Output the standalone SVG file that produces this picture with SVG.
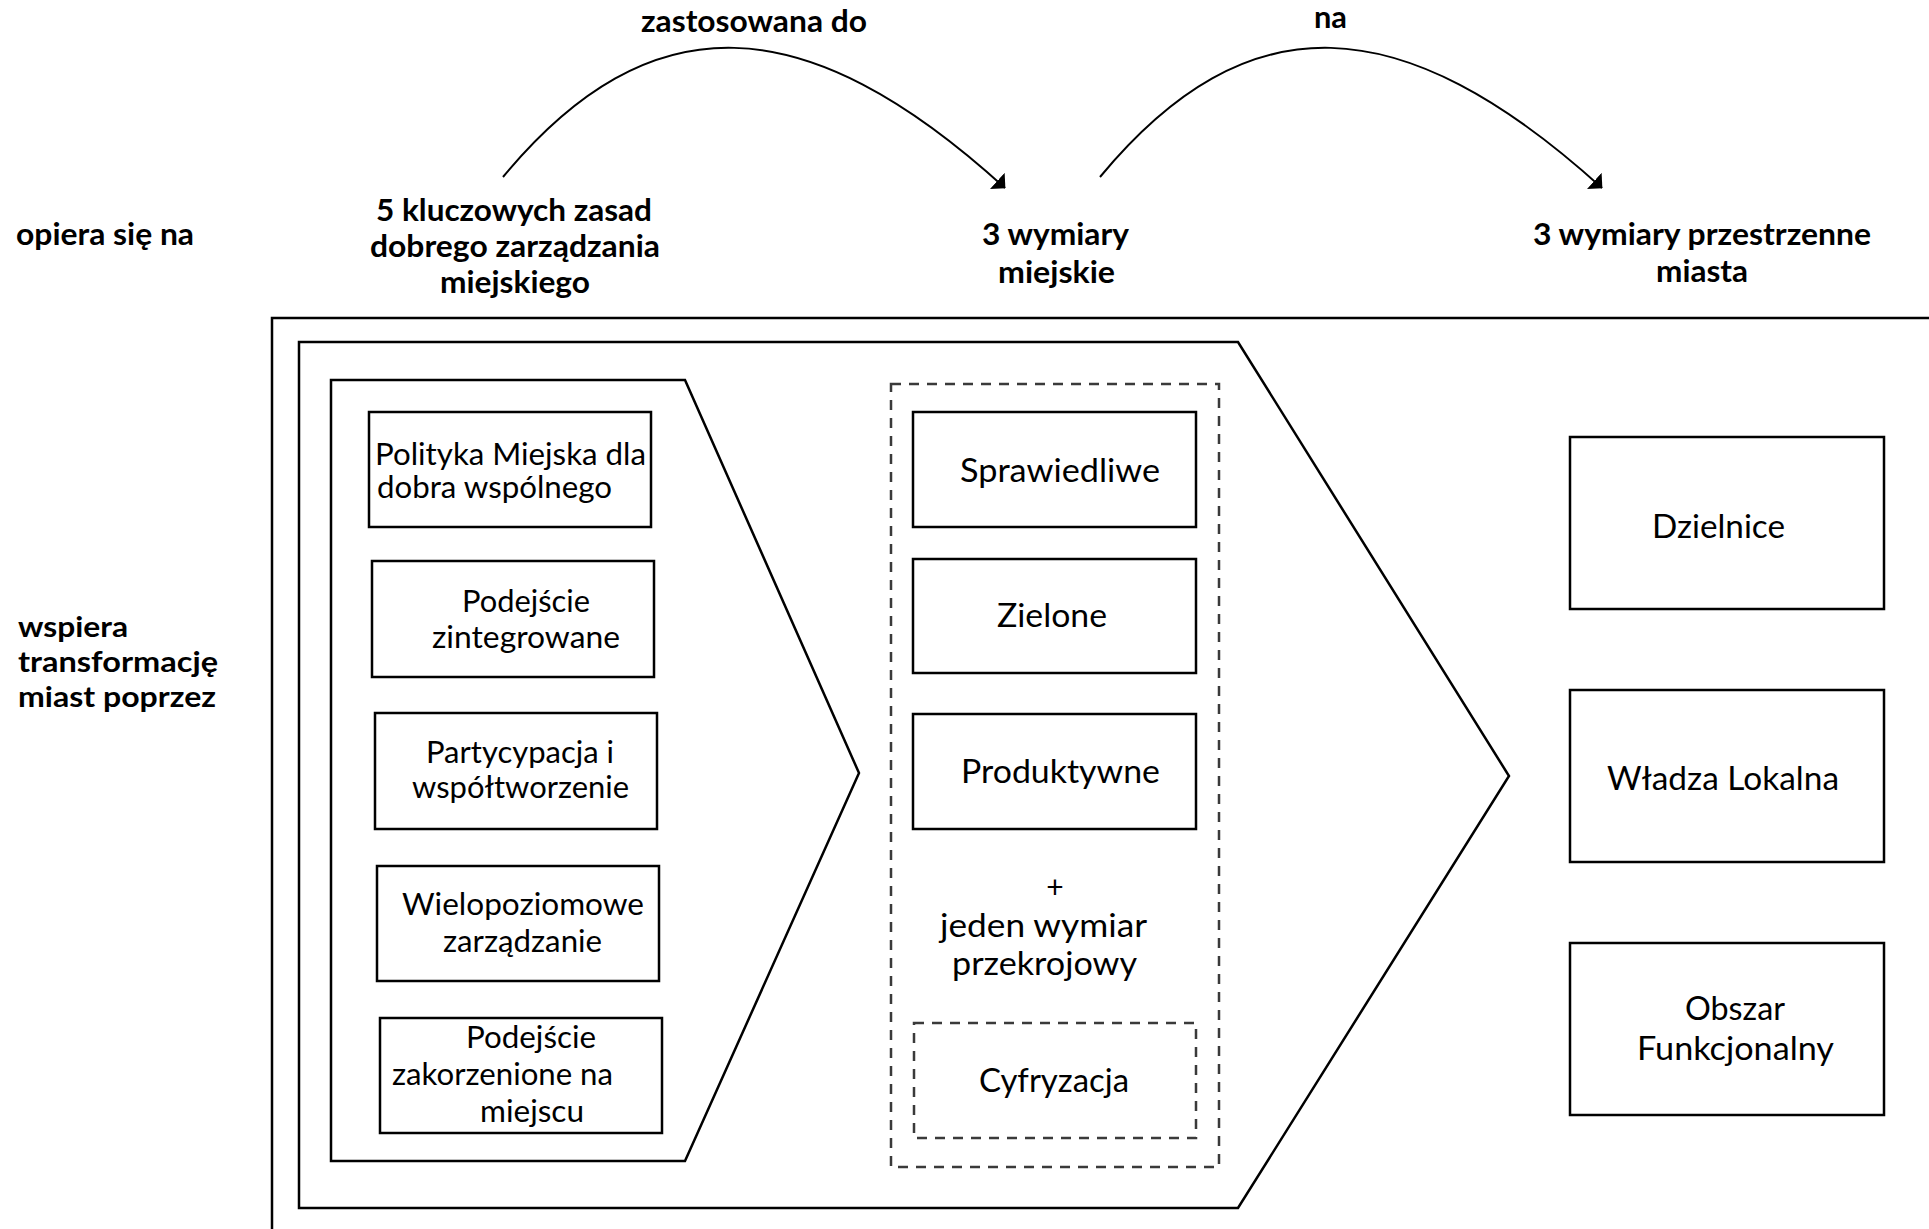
<svg xmlns="http://www.w3.org/2000/svg" width="1929" height="1229" viewBox="0 0 1929 1229">
<defs>
<style>
.lbl{font-family:Lato,"Liberation Sans",sans-serif;font-weight:700;font-size:30px;fill:#000}
.lbs{font-family:Lato,"Liberation Sans",sans-serif;font-weight:700;font-size:29px;fill:#000}
.t{font-family:Lato,"Liberation Sans",sans-serif;font-size:30px;fill:#000}
.tm{font-family:Lato,"Liberation Sans",sans-serif;font-size:32px;fill:#000}
.tr{font-family:Lato,"Liberation Sans",sans-serif;font-size:33px;fill:#000}
.box{fill:#fff;stroke:#000;stroke-width:2.5}
.frame{fill:none;stroke:#000;stroke-width:2.5}
.dash{fill:none;stroke:#3a3a3a;stroke-width:2.5;stroke-dasharray:10 8}
.arc{fill:none;stroke:#000;stroke-width:2}
</style>
<marker id="ah" markerUnits="userSpaceOnUse" viewBox="0 0 11 22" markerWidth="11" markerHeight="22" refX="10.5" refY="11" orient="auto">
<path d="M0,0 L11,11 L0,22 Z" fill="#000"/>
</marker>
</defs>
<rect width="1929" height="1229" fill="#fff"/>

<g id="labels">
<text class="lbl" x="641" y="32" textLength="226" lengthAdjust="spacingAndGlyphs">zastosowana do</text>
<text class="lbl" x="1314" y="28" textLength="33" lengthAdjust="spacingAndGlyphs">na</text>
<text class="lbl" x="16" y="245" textLength="178" lengthAdjust="spacingAndGlyphs">opiera się na</text>
<text class="lbs" x="18" y="637" textLength="110" lengthAdjust="spacingAndGlyphs">wspiera</text>
<text class="lbs" x="18" y="672" textLength="200" lengthAdjust="spacingAndGlyphs">transformację</text>
<text class="lbs" x="18" y="707" textLength="198" lengthAdjust="spacingAndGlyphs">miast poprzez</text>
</g>

<g id="node-zasady">
<text class="lbl" x="376" y="221" textLength="276" lengthAdjust="spacingAndGlyphs">5 kluczowych zasad</text>
<text class="lbl" x="370" y="257" textLength="290" lengthAdjust="spacingAndGlyphs">dobrego zarządzania</text>
<text class="lbl" x="440" y="293" textLength="150" lengthAdjust="spacingAndGlyphs">miejskiego</text>
</g>
<g id="node-wymiary-miejskie">
<text class="lbl" x="982" y="245" textLength="147" lengthAdjust="spacingAndGlyphs">3 wymiary</text>
<text class="lbl" x="998" y="283" textLength="117" lengthAdjust="spacingAndGlyphs">miejskie</text>
</g>
<g id="node-wymiary-przestrzenne">
<text class="lbl" x="1533" y="245" textLength="338" lengthAdjust="spacingAndGlyphs">3 wymiary przestrzenne</text>
<text class="lbl" x="1656" y="282" textLength="92" lengthAdjust="spacingAndGlyphs">miasta</text>
</g>

<g id="connectors">
<path class="arc" d="M503,177 C650,0 805,6 1005,188" marker-end="url(#ah)"/>
<path class="arc" d="M1100,177 C1247,0 1401,6 1602,188" marker-end="url(#ah)"/>
</g>

<g id="frame-outer">
<path class="frame" d="M1929,318 H272 V1229"/>
</g>
<g id="chevron-outer">
<path class="frame" d="M299,342 H1238 L1509,776 L1238,1208 H299 Z"/>
</g>
<g id="chevron-inner">
<path class="frame" d="M331,380 H685 L859,773 L685,1161 H331 Z"/>
</g>

<g id="node-polityka">
<rect class="box" x="369" y="412" width="282" height="115"/>
<text class="t" x="375" y="465" textLength="271" lengthAdjust="spacingAndGlyphs">Polityka Miejska dla</text>
<text class="t" x="377" y="498" textLength="235" lengthAdjust="spacingAndGlyphs">dobra wspólnego</text>
</g>
<g id="node-zintegrowane">
<rect class="box" x="372" y="561" width="282" height="116"/>
<text class="t" x="462" y="612" textLength="128" lengthAdjust="spacingAndGlyphs">Podejście</text>
<text class="t" x="432" y="648" textLength="188" lengthAdjust="spacingAndGlyphs">zintegrowane</text>
</g>
<g id="node-partycypacja">
<rect class="box" x="375" y="713" width="282" height="116"/>
<text class="t" x="426" y="763" textLength="188" lengthAdjust="spacingAndGlyphs">Partycypacja i</text>
<text class="t" x="412" y="798" textLength="217" lengthAdjust="spacingAndGlyphs">współtworzenie</text>
</g>
<g id="node-wielopoziomowe">
<rect class="box" x="377" y="866" width="282" height="115"/>
<text class="t" x="402" y="915" textLength="242" lengthAdjust="spacingAndGlyphs">Wielopoziomowe</text>
<text class="t" x="443" y="952" textLength="159" lengthAdjust="spacingAndGlyphs">zarządzanie</text>
</g>
<g id="node-zakorzenione">
<rect class="box" x="380" y="1018" width="282" height="115"/>
<text class="t" x="466" y="1048" textLength="130" lengthAdjust="spacingAndGlyphs">Podejście</text>
<text class="t" x="392" y="1085" textLength="221" lengthAdjust="spacingAndGlyphs">zakorzenione na</text>
<text class="t" x="480" y="1122" textLength="104" lengthAdjust="spacingAndGlyphs">miejscu</text>
</g>

<g id="group-wymiary">
<rect class="dash" x="891" y="384" width="328" height="783"/>
</g>
<g id="node-sprawiedliwe">
<rect class="box" x="913" y="412" width="283" height="115"/>
<text class="tm" x="960" y="482" textLength="200" lengthAdjust="spacingAndGlyphs">Sprawiedliwe</text>
</g>
<g id="node-zielone">
<rect class="box" x="913" y="559" width="283" height="114"/>
<text class="tm" x="997" y="627" textLength="110" lengthAdjust="spacingAndGlyphs">Zielone</text>
</g>
<g id="node-produktywne">
<rect class="box" x="913" y="714" width="283" height="115"/>
<text class="tm" x="961" y="783" textLength="199" lengthAdjust="spacingAndGlyphs">Produktywne</text>
</g>
<g id="node-przekrojowy">
<text class="t" x="1055" y="898" text-anchor="middle">+</text>
<text class="tm" x="940" y="937" textLength="207" lengthAdjust="spacingAndGlyphs">jeden wymiar</text>
<text class="tm" x="952" y="975" textLength="185" lengthAdjust="spacingAndGlyphs">przekrojowy</text>
</g>
<g id="node-cyfryzacja">
<rect class="dash" x="914" y="1023" width="282" height="115"/>
<text class="tm" x="979" y="1092" textLength="150" lengthAdjust="spacingAndGlyphs">Cyfryzacja</text>
</g>

<g id="node-dzielnice">
<rect class="box" x="1570" y="437" width="314" height="172"/>
<text class="tr" x="1652" y="538" textLength="133" lengthAdjust="spacingAndGlyphs">Dzielnice</text>
</g>
<g id="node-wladza">
<rect class="box" x="1570" y="690" width="314" height="172"/>
<text class="tr" x="1607" y="790" textLength="232" lengthAdjust="spacingAndGlyphs">Władza Lokalna</text>
</g>
<g id="node-obszar">
<rect class="box" x="1570" y="943" width="314" height="172"/>
<text class="tr" x="1685" y="1020" textLength="100" lengthAdjust="spacingAndGlyphs">Obszar</text>
<text class="tr" x="1637" y="1060" textLength="197" lengthAdjust="spacingAndGlyphs">Funkcjonalny</text>
</g>
</svg>
